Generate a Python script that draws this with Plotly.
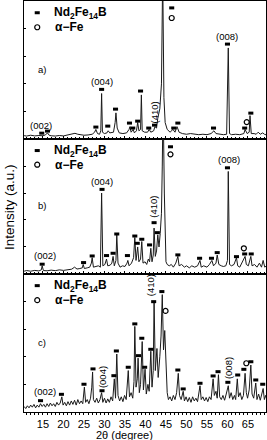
import plotly.graph_objects as go

# ---------------- data (2theta in degrees, intensity in a.u., 0-100 per panel) ----------------
tth_a = [10.4, 11, 12, 13, 14, 15, 15.6, 16.1, 16.5, 17, 18, 19, 20, 21, 22, 22.8, 23.5, 24.2, 25, 26,
         27, 27.6, 27.9, 28.3, 28.8, 29.1, 29.3, 29.5, 30, 30.6, 30.9, 31.3, 32.2, 32.6, 32.8, 33.1,
         33.6, 34.5, 35.4, 36, 36.2, 36.5, 37, 37.3, 37.8, 38.1, 38.4, 38.8, 39.0, 39.2, 39.8, 40.5,
         40.9, 41.3, 42, 42.3, 42.7, 43.0, 43.5, 43.9, 44.2, 44.5, 44.8, 45.3, 46, 46.7, 47.2, 47.7,
         48.2, 49, 50, 51, 52, 53, 54, 55, 56, 56.7, 57.2, 58, 59, 59.8, 60.2, 60.5, 61, 62, 63, 64,
         64.3, 64.8, 65.3, 65.5, 65.8, 66.5, 67, 67.5, 68, 68.6, 69, 69.5]
int_a = [2.5, 2.2, 2.8, 2.3, 2.6, 2.4, 3, 4.5, 2.8, 2.4, 2.2, 2.6, 2.3, 2.8, 3.4, 4.2, 3.5, 3, 2.8, 3,
         3.5, 5, 7, 4, 3.5, 6, 33, 5, 4, 4.5, 6, 4.5, 5, 12, 19, 8,
         4.5, 4, 4.5, 7, 9, 5, 7, 4.5, 6, 12, 6, 7, 32, 6, 5, 5,
         7, 5, 6, 9, 8, 15, 22, 40, 120, 30, 12, 7, 5, 7, 5, 9,
         5, 4, 3.5, 4, 3.5, 3.2, 3.5, 3.2, 4, 6, 4, 3.5, 3.2, 3.5, 66, 4, 3.2, 3.5, 3.2, 4,
         7, 4, 5, 17, 4, 4, 3.5, 5, 3.5, 4.5, 3.5, 3]

tth_b = [10.4, 11, 12, 13, 14, 14.6, 14.8, 15.1, 16, 17, 18, 19, 20, 21, 22, 22.7, 23.3, 24, 24.6, 24.8,
         25.1, 25.8, 26.4, 26.8, 27.0, 27.3, 27.9, 28.5, 29.0, 29.3, 29.6, 30.1, 30.5, 30.8, 31.4, 31.8,
         32.1, 32.4, 32.8, 33.0, 33.3, 33.8, 34.4, 35, 35.5, 35.7, 36, 36.6, 37.1, 37.4, 37.7, 38.1,
         38.4, 38.8, 39.1, 39.4, 39.9, 40.3, 40.7, 41.0, 41.3, 41.6, 41.9, 42.1, 42.4, 42.7, 43.0, 43.3,
         43.6, 43.9, 44.1, 44.3, 44.6, 44.8, 45.0, 45.3, 45.8, 46.3, 46.8, 47.4, 47.9, 48.2, 48.8, 49.5,
         50, 50.7, 51.3, 52, 52.7, 53.3, 53.6, 54.2, 55, 55.6, 56.2, 56.6, 57.2, 57.5, 57.9, 58.5, 59,
         59.6, 60.0, 60.2, 60.5, 61, 61.6, 62.2, 62.5, 63, 63.5, 64.3, 64.6, 65.1, 65.7, 66.0, 66.6,
         67.2, 67.8, 68.3, 68.7, 69.1, 69.5]
int_b = [2, 2.5, 2, 2.6, 2.2, 3, 6, 2.5, 2.3, 2.8, 2.4, 3, 2.6, 3.2, 3.5, 5, 3.6, 4, 4.5, 7,
         4, 4.5, 5, 8, 12, 5, 5.5, 6, 5, 60, 6, 7, 11, 6, 6.5, 8,
         13, 6, 10, 29, 8, 5, 6, 5.5, 8, 10, 6, 8, 12, 27, 10, 20,
         9, 11, 24, 8, 9, 7, 11, 9, 19, 9, 14, 34, 13, 17, 29, 20,
         30, 45, 80, 130, 60, 20, 9, 7, 6, 7, 5, 8, 13, 6, 7, 5,
         6, 4.5, 6, 5, 6, 10, 5, 6, 5, 7, 10, 6, 8, 14, 7, 6, 5.5,
         6, 10, 76, 7, 6, 7, 12, 6, 5, 8, 13, 7, 6, 13, 6, 7,
         5, 8, 5, 10, 5, 6]

tth_c = [10.4, 10.8, 11.2, 11.6, 12.0, 12.4, 12.8, 13.2, 13.6, 14.0, 14.4, 14.8, 15.2, 15.6, 16.0, 16.4,
         16.8, 17.2, 17.6, 18.0, 18.4, 18.8, 19.2, 19.6, 19.9, 20.3, 20.7, 21.1, 21.5, 21.9, 22.3, 22.7,
         23.1, 23.5, 23.9, 24.3, 24.7, 25.1, 25.4, 25.8, 26.2, 26.6, 26.9, 27.1, 27.3, 27.7, 28.1, 28.5,
         28.9, 29.3, 29.6, 30.0, 30.4, 30.8, 31.2, 31.6, 32.0, 32.4, 32.7, 33.0, 33.3, 33.7, 34.1, 34.5,
         34.9, 35.3, 35.8, 36.1, 36.5, 36.9, 37.2, 37.4, 37.7, 38.0, 38.2, 38.5, 38.8, 39.2, 39.5, 39.9,
         40.2, 40.6, 40.9, 41.3, 41.6, 41.9, 42.1, 42.4, 42.8, 43.1, 43.5, 43.8, 44.1, 44.4, 44.7, 45.0,
         45.3, 45.6, 46.0, 46.4, 46.8, 47.2, 47.6, 48.0, 48.3, 48.7, 49.2, 49.5, 49.9, 50.3, 50.7, 51.1,
         51.5, 51.9, 52.3, 52.7, 53.0, 53.3, 53.6, 54.0, 54.4, 54.8, 55.2, 55.6, 56.0, 56.5, 56.8, 57.2,
         57.5, 57.8, 58.1, 58.5, 58.9, 59.3, 59.7, 60.2, 60.5, 60.9, 61.3, 61.7, 62.0, 62.4, 62.7, 63.1,
         63.5, 63.9, 64.3, 64.6, 64.9, 65.3, 65.7, 66.0, 66.4, 66.9, 67.2, 67.6, 68.0, 68.3, 68.7, 69.0,
         69.3, 69.5]
int_c = [4, 2.5, 4.5, 3, 5, 3.5, 5.5, 3, 5, 3.5, 6, 4, 5.5, 3.5, 6, 4,
         6.5, 4.5, 6, 4, 7, 5, 6.5, 11, 5, 7, 4.5, 7.5, 5, 8, 5.5, 8.5,
         5, 9, 6, 8, 6, 18, 7, 9, 6, 10, 18, 29, 9, 7, 10, 6.5,
         9, 14, 7, 10, 6.5, 9.5, 7, 11, 8, 24, 10, 42, 12, 8, 11, 7.5,
         12, 9, 30, 11, 14, 10, 22, 62, 18, 24, 39, 14, 20, 51, 16, 31,
         13, 20, 15, 44, 18, 30, 80, 30, 46, 25, 40, 55, 85, 45, 59, 30,
         14, 9, 11, 8, 12, 9, 14, 28, 12, 9, 15, 8, 11, 7.5, 10.5, 7,
         11, 8, 10, 7.5, 12, 19, 9, 11, 8, 10.5, 7.5, 11, 9, 24, 12, 15,
         10, 27, 11, 9, 12, 8.5, 13, 19, 10, 14, 9, 12, 9, 24, 11, 14,
         9, 12, 28, 14, 10, 16, 34, 13, 10, 21, 9, 13, 8.5, 12, 17, 9,
         12, 10]

# phase markers (Nd2Fe14B squares, alpha-Fe circles) : 2theta and label heights
sq_x_a = [14.7, 16.1, 27.9, 29.3, 30.8, 32.7, 36.1, 36.9, 38.1, 38.8, 40.8, 42.2, 46.4, 46.9, 47.9, 56.6, 60.0, 64.2, 65.7]
sq_y_a = [4.3, 5.8, 8.7, 36, 9.4, 21.7, 11.6, 8, 13, 34.8, 8, 10.1, 95, 8, 11.6, 8, 68.8, 8, 18.8]
ci_x_a = [46.4, 64.7]
ci_y_a = [87.7, 12.3]

sq_x_b = [14.8, 24.9, 27.0, 29.4, 30.5, 32.1, 33.0, 35.6, 37.4, 38.0, 39.1, 41.0, 42.1, 42.9, 46.1, 47.9, 53.2, 56.1, 57.5, 60.0, 62.2, 64.2, 65.8]
sq_y_b = [7.2, 8.4, 13.3, 62.7, 13.6, 15.3, 29.6, 13.6, 28.1, 22.7, 25.7, 21.5, 38, 30.6, 94.3, 14.1, 11.6, 11.6, 15.8, 78.7, 12.8, 14.8, 14.8]
ci_x_b = [46.1, 64.0]
ci_y_b = [88.7, 19.0]

sq_x_c = [14.4, 19.5, 25.0, 27.2, 29.4, 32.3, 32.9, 35.8, 37.4, 38.3, 39.1, 39.8, 41.3, 42.0, 44.0, 47.9, 49.2, 53.3, 56.5, 57.7, 60.1, 62.5, 64.0, 65.7, 66.9, 68.6]
sq_y_c = [8.2, 12.8, 20.1, 31.2, 15.4, 26.3, 44.2, 32.4, 63.8, 40.8, 53.4, 32.4, 45.4, 79.9, 87.2, 30.4, 16.7, 20.8, 26.1, 29.2, 21.5, 26.8, 30.9, 36.4, 23.2, 20.1]
ci_x_c = [44.9, 64.6]
ci_y_c = [73.2, 35.3]

# reflection labels: (text, 2theta, height, vertical?)
hkl_a = [("(002)", 14.4, 10.1, False), ("(004)", 29.3, 42, False), ("(410)", 42.2, 19.6, True), ("(008)", 60.0, 74.6, False)]
hkl_b = [("(002)", 15.4, 13.3, False), ("(004)", 29.4, 68.9, False), ("(410)", 42.1, 49.9, True), ("(008)", 60.4, 85, False)]
hkl_c = [("(002)", 15.4, 14.7, False), ("(004)", 29.5, 25.6, True), ("(410)", 41.4, 92, True), ("(008)", 60.1, 31.7, True)]

panel_tags = ["a)", "b)", "c)"]
x_ticks = [15, 20, 25, 30, 35, 40, 45, 50, 55, 60, 65]

# ---------------- figure ----------------
FONT = "Liberation Sans, Arial, sans-serif"
fig = go.Figure()

panels = [
    ("x", "y", tth_a, int_a, sq_x_a, sq_y_a, ci_x_a, ci_y_a, hkl_a, panel_tags[0], [0.664, 1.0]),
    ("x2", "y2", tth_b, int_b, sq_x_b, sq_y_b, ci_x_b, ci_y_b, hkl_b, panel_tags[1], [0.336, 0.664]),
    ("x3", "y3", tth_c, int_c, sq_x_c, sq_y_c, ci_x_c, ci_y_c, hkl_c, panel_tags[2], [0.0, 0.336]),
]

annotations = []
for i, (xa, ya, tx, iy, sx, sy, cx, cy, hkl, tag, dom) in enumerate(panels):
    fig.add_trace(go.Scatter(x=tx, y=iy, xaxis=xa, yaxis=ya, mode="lines",
                             line=dict(color="#1a1a1a", width=1), showlegend=False, hoverinfo="skip"))
    fig.add_trace(go.Scatter(x=sx + [13.6], y=sy + [91.5], xaxis=xa, yaxis=ya, mode="markers",
                             marker=dict(symbol="line-ew", size=3.6, color="black",
                                         line=dict(color="black", width=3)),
                             showlegend=False, hoverinfo="skip", cliponaxis=False))
    fig.add_trace(go.Scatter(x=cx + [13.6], y=cy + [81], xaxis=xa, yaxis=ya, mode="markers",
                             marker=dict(symbol="circle-open", size=5, color="black",
                                         line=dict(color="black", width=1.2)),
                             showlegend=False, hoverinfo="skip"))
    for (txt, hx, hy, vert) in hkl:
        annotations.append(dict(x=hx, y=hy, xref=xa, yref=ya, text=txt, showarrow=False,
                                textangle=-90 if vert else 0,
                                font=dict(family=FONT, size=9.5, color="black"),
                                xanchor="center", yanchor="middle"))
    annotations.append(dict(x=14.7, y=50.5, xref=xa, yref=ya, text=tag, showarrow=False,
                            font=dict(family=FONT, size=9.5, color="black"), xanchor="center", yanchor="middle"))
    annotations.append(dict(x=17.2, y=91.5, xref=xa, yref=ya, text="<b>Nd<sub>2</sub>Fe<sub>14</sub>B</b>",
                            showarrow=False, font=dict(family=FONT, size=12, color="black"),
                            xanchor="left", yanchor="middle"))
    annotations.append(dict(x=17.4, y=81, xref=xa, yref=ya, text="<b>α−Fe</b>",
                            showarrow=False, font=dict(family=FONT, size=12, color="black"),
                            xanchor="left", yanchor="middle"))

annotations.append(dict(x=-0.06, y=0.5, xref="paper", yref="paper", text="Intensity (a.u.)",
                        textangle=-90, showarrow=False, font=dict(family=FONT, size=13.5, color="black"),
                        xanchor="center", yanchor="middle"))
annotations.append(dict(x=0.417, y=-0.057, xref="paper", yref="paper", text="2θ (degree)",
                        showarrow=False, font=dict(family=FONT, size=11, color="black"),
                        xanchor="center", yanchor="middle"))

xr = [10.37, 69.4]
common_x = dict(range=xr, showline=True, linecolor="black", linewidth=1, mirror=True,
                showgrid=False, zeroline=False, ticks="inside", ticklen=3, dtick=5, tick0=0,
                tickcolor="black", minor=dict(ticks="inside", ticklen=2, dtick=1, tickcolor="black"))
common_y = dict(range=[0, 100], showline=True, linecolor="black", linewidth=1, mirror=True,
                showgrid=False, zeroline=False, showticklabels=False, ticks="inside", ticklen=2,
                dtick=20, tickcolor="black")

layout = dict(
    width=267, height=440,
    margin=dict(l=24, r=1, t=1, b=28),
    paper_bgcolor="white", plot_bgcolor="white",
    showlegend=False,
    annotations=annotations,
)
layout["xaxis"] = dict(common_x, anchor="y", showticklabels=False)
layout["xaxis2"] = dict(common_x, anchor="y2", showticklabels=False)
layout["xaxis3"] = dict(common_x, anchor="y3", showticklabels=True, tickvals=x_ticks,
                        ticks="outside", ticklen=2,
                        minor=dict(ticks="outside", ticklen=2, dtick=1, tickcolor="black"),
                        tickfont=dict(family=FONT, size=11, color="black"))
layout["yaxis"] = dict(common_y, anchor="x", domain=panels[0][10])
layout["yaxis2"] = dict(common_y, anchor="x2", domain=panels[1][10])
layout["yaxis3"] = dict(common_y, anchor="x3", domain=panels[2][10])
fig.update_layout(**layout)

fig.write_html("out.html", config={"displayModeBar": False},
               post_script="document.body.style.margin='0px';document.body.style.padding='0px';")
